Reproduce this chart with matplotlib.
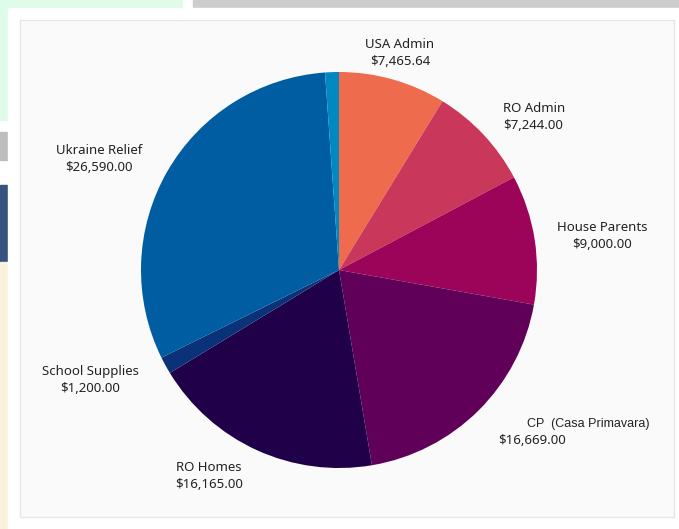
import matplotlib.pyplot as plt
from matplotlib.patches import Rectangle

# budget categories, clockwise from 12 o'clock
categories = ['USA Admin', 'RO Admin', 'House Parents', 'CP  (Casa Primavara)',
              'RO Homes', 'School Supplies', 'Ukraine Relief', '']
amounts = [7465.64, 7244.00, 9000.00, 16669.00, 16165.00, 1200.00, 26590.00, 960.00]
colors = ['#EF6B4E', '#C9385A', '#9B0458', '#600058',
          '#200048', '#0B3278', '#005DA2', '#0088C0']

W, H = 679, 529
fig = plt.figure(figsize=(W / 100, H / 100), dpi=100)


def px(x, y):
    # pixel coords (top-left origin) -> figure fraction
    return x / W, 1 - y / H


def rect(x0, y0, x1, y1, color, **kw):
    fig.patches.append(Rectangle(px(x0, y1), (x1 - x0) / W, (y1 - y0) / H,
                                 transform=fig.transFigure, color=color, zorder=-1, **kw))


# surrounding screenshot bits
rect(0, 0, 182, 120, '#DFFBEA')
rect(193, 0, W, 8, '#CDCDCD')
rect(0, 132, 8, 160, '#BDBDBD')
rect(0, 185, 8, 262, '#34547E')
rect(0, 262, 8, H, '#FAF3DC')
rect(8, 8, W, H, '#FFFFFF')
fig.patches.append(Rectangle(px(20, 517), (674 - 20) / W, (517 - 20) / H,
                             transform=fig.transFigure, facecolor='#FAFAFA',
                             edgecolor='#E6E6E6', linewidth=1, zorder=-1))

# pie axes: centre (339, 270), radius 198 px
cx, cy, r = 339, 270, 198
x0, y0 = px(cx - r, cy + r)
ax = fig.add_axes([x0, y0, 2 * r / W, 2 * r / H])
ax.set_zorder(2)
ax.pie(amounts, colors=colors, startangle=90, counterclock=False,
       wedgeprops=dict(linewidth=0))
ax.set_xlim(-1, 1)
ax.set_ylim(-1, 1)
ax.set_aspect('auto')
ax.axis('off')

# label positions (pixel coords of text centre) and alignment
label_pos = [(400, 53, 'center'), (503, 117, 'left'), (602, 236, 'center'),
             (498, 432, 'left'), (209, 476, 'center'), (90, 380, 'center'),
             (99, 159, 'center')]

txt = dict(color='#222222', fontsize=9.5, family='Noto Sans')
for name, val, (lx, ly, ha) in zip(categories, amounts, label_pos):
    if name.startswith('CP'):
        fig.text(*px(527, ly - 8), name, ha='left', va='center',
                 color='#222222', fontsize=9, family='Liberation Sans')
        fig.text(*px(lx, ly + 9), f'${val:,.2f}', ha='left', va='center', **txt)
    else:
        fig.text(*px(lx, ly), f'{name}\n${val:,.2f}', ha=ha, va='center',
                 linespacing=1.45, **txt)

fig.savefig('out.png', dpi=100)
